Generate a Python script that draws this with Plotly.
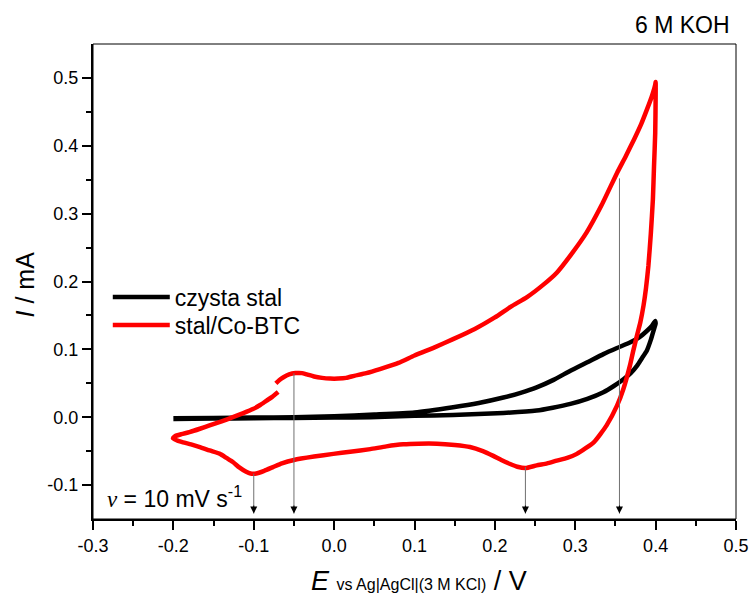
import plotly.graph_objects as go

# ---------------- data ----------------
red_E = [-0.0725, -0.068, -0.063, -0.056, -0.048, -0.040, -0.034, -0.025, -0.015, -0.005,
         0.005, 0.015, 0.025, 0.040, 0.057, 0.080, 0.100, 0.125, 0.148, 0.175,
         0.200, 0.220, 0.240, 0.260, 0.277, 0.295, 0.314, 0.333, 0.352, 0.363,
         0.373, 0.382, 0.389, 0.395, 0.3995, 0.400,
         0.400, 0.3995, 0.398, 0.3966, 0.394, 0.391, 0.388, 0.385, 0.381, 0.3767,
         0.372, 0.368, 0.360, 0.352, 0.339, 0.323, 0.302, 0.290, 0.277, 0.265,
         0.252, 0.238, 0.228, 0.219, 0.208, 0.198, 0.185, 0.169, 0.150, 0.128,
         0.105, 0.086, 0.065, 0.045, 0.020, -0.001, -0.025, -0.050, -0.065, -0.076,
         -0.087, -0.097, -0.104, -0.110, -0.118, -0.126, -0.134, -0.142, -0.155, -0.167,
         -0.178, -0.188, -0.196, -0.2005, -0.198, -0.190, -0.180, -0.167, -0.155, -0.140,
         -0.126, -0.113, -0.101, -0.092, -0.084, -0.077, -0.0696]
red_I = [0.050, 0.055, 0.059, 0.063, 0.065, 0.065, 0.063, 0.060, 0.058, 0.057,
         0.057, 0.058, 0.061, 0.065, 0.071, 0.080, 0.091, 0.103, 0.115, 0.130,
         0.147, 0.163, 0.177, 0.195, 0.213, 0.240, 0.272, 0.313, 0.360, 0.385,
         0.409, 0.432, 0.453, 0.472, 0.490, 0.494,
         0.470, 0.419, 0.370, 0.321, 0.270, 0.223, 0.190, 0.165, 0.140, 0.120,
         0.097, 0.076, 0.042, 0.017, -0.012, -0.037, -0.054, -0.060, -0.064, -0.068,
         -0.071, -0.075, -0.073, -0.069, -0.063, -0.057, -0.050, -0.044, -0.041, -0.039,
         -0.039, -0.040, -0.043, -0.047, -0.051, -0.054, -0.058, -0.063, -0.068, -0.0735,
         -0.079, -0.083, -0.083, -0.080, -0.074, -0.066, -0.060, -0.054, -0.049, -0.044,
         -0.040, -0.037, -0.034, -0.031, -0.028, -0.025, -0.022, -0.017, -0.012, -0.006,
         0.000, 0.006, 0.012, 0.018, 0.0245, 0.030, 0.037]

black_E = [-0.200, -0.150, -0.100, -0.050, 0.000, 0.050, 0.100, 0.148, 0.180, 0.2106,
           0.232, 0.252, 0.273, 0.294, 0.315, 0.335, 0.352, 0.368, 0.380, 0.389,
           0.395, 0.3995,
           0.400, 0.398, 0.394, 0.389, 0.383, 0.377, 0.369, 0.360, 0.348, 0.335,
           0.315, 0.294, 0.272, 0.252, 0.2106, 0.148, 0.100, 0.045, 0.000, -0.050,
           -0.100, -0.150, -0.200]
black_I = [-0.0015, -0.001, -0.0005, 0.000, 0.0015, 0.004, 0.007, 0.0147, 0.021, 0.029,
           0.036, 0.044, 0.055, 0.0686, 0.081, 0.093, 0.102, 0.110, 0.118, 0.127,
           0.134, 0.142,
           0.138, 0.130, 0.114, 0.098, 0.087, 0.076, 0.065, 0.056, 0.046, 0.0368,
           0.027, 0.0196, 0.014, 0.0098, 0.0063, 0.0034, 0.002, 0.000, -0.0005, -0.001,
           -0.0015, -0.002, -0.0025]

x_tickvals = [-0.3, -0.2, -0.1, 0.0, 0.1, 0.2, 0.3, 0.4, 0.5]
x_ticktext = ["-0.3", "-0.2", "-0.1", "0.0", "0.1", "0.2", "0.3", "0.4", "0.5"]
x_minor = [-0.25, -0.15, -0.05, 0.05, 0.15, 0.25, 0.35, 0.45]
y_tickvals = [-0.1, 0.0, 0.1, 0.2, 0.3, 0.4, 0.5]
y_ticktext = ["-0.1", "0.0", "0.1", "0.2", "0.3", "0.4", "0.5"]
y_minor = [-0.05, 0.05, 0.15, 0.25, 0.35, 0.45]

arrow_E = [-0.1, -0.05, 0.238, 0.355]
arrow_I = [-0.083, 0.0647, -0.0735, 0.352]

series_names = ["czysta stal", "stal/Co-BTC"]

# ---------------- figure ----------------
FONT = "Arial, 'Liberation Sans', sans-serif"
XR = [-0.3, 0.5]
YR = [-0.15, 0.55]

fig = go.Figure()
fig.add_trace(go.Scatter(x=black_E, y=black_I, mode="lines", name=series_names[0],
                         legend="legend",
                         line=dict(color="#000000", width=4.5, shape="spline", smoothing=0.5)))
fig.add_trace(go.Scatter(x=red_E, y=red_I, mode="lines", name=series_names[1],
                         legend="legend2",
                         line=dict(color="#ff0000", width=4.5, shape="spline", smoothing=0.5)))

axis_common = dict(showgrid=False, zeroline=False, showline=True, linecolor="black",
                   linewidth=2, ticks="outside", ticklen=9, tickwidth=1.5,
                   tickcolor="black", tickfont=dict(family=FONT, size=18, color="black"),
                   tickmode="array", automargin=False)

fig.update_xaxes(range=XR, tickvals=x_tickvals, ticktext=x_ticktext,
                 minor=dict(tickmode="array", tickvals=x_minor, ticks="outside",
                            ticklen=5, tickwidth=1.5, tickcolor="black"),
                 **axis_common)
fig.update_yaxes(range=YR, tickvals=y_tickvals, ticktext=y_ticktext,
                 minor=dict(tickmode="array", tickvals=y_minor, ticks="outside",
                            ticklen=5, tickwidth=1.5, tickcolor="black"),
                 **axis_common)

shapes = [dict(type="rect", xref="paper", yref="paper", x0=0, x1=1, y0=0, y1=1,
               line=dict(color="black", width=1), layer="above")]
annotations = []
for e, i in zip(arrow_E, arrow_I):
    shapes.append(dict(type="line", xref="x", yref="y", x0=e, x1=e, y0=i, y1=-0.142,
                       line=dict(color="#707070", width=1)))
    annotations.append(dict(x=e, y=-0.142, ax=e, ay=-0.128, xref="x", yref="y",
                            axref="x", ayref="y", text="", showarrow=True,
                            arrowhead=2, arrowsize=1.4, arrowwidth=1,
                            arrowcolor="black", standoff=0))

annotations += [
    dict(text="6 M KOH", xref="paper", yref="paper", x=0.994, y=1.039,
         xanchor="right", yanchor="middle", showarrow=False,
         font=dict(family=FONT, size=23, color="black")),
    dict(text="<i>E</i> <span style='font-size:16px'>vs Ag|AgCl|(3 M KCl)</span> / V",
         xref="paper", yref="paper", x=0.507, y=-0.13, xanchor="center",
         yanchor="middle", showarrow=False,
         font=dict(family=FONT, size=27, color="black")),
    dict(text="<i>I</i> / mA", xref="paper", yref="paper", x=-0.1063, y=0.493,
         xanchor="center", yanchor="middle", textangle=-90, showarrow=False,
         font=dict(family=FONT, size=25, color="black")),
    dict(text="<span style=\"font-family:'Liberation Serif', 'Times New Roman', serif\"><i>ν</i></span> = 10 mV s<sup>-1</sup>",
         xref="paper", yref="paper", x=0.0182, y=0.047, xanchor="left",
         yanchor="middle", showarrow=False,
         font=dict(family=FONT, size=23, color="black")),
]

legend_common = dict(xanchor="left", yanchor="middle", bgcolor="rgba(0,0,0,0)",
                     borderwidth=0, itemwidth=57,
                     font=dict(family=FONT, size=23, color="black"))

fig.update_layout(
    template="none",
    width=751, height=595,
    margin=dict(l=93, r=15, t=44, b=76, autoexpand=False),
    paper_bgcolor="white", plot_bgcolor="white",
    shapes=shapes, annotations=annotations,
    showlegend=True,
    legend=dict(x=0.023, y=0.4674, **legend_common),
    legend2=dict(x=0.023, y=0.4085, **legend_common),
)

fig.write_html("out.html", config={"displayModeBar": False},
               post_script="document.body.style.margin='0';document.body.style.padding='0';")
